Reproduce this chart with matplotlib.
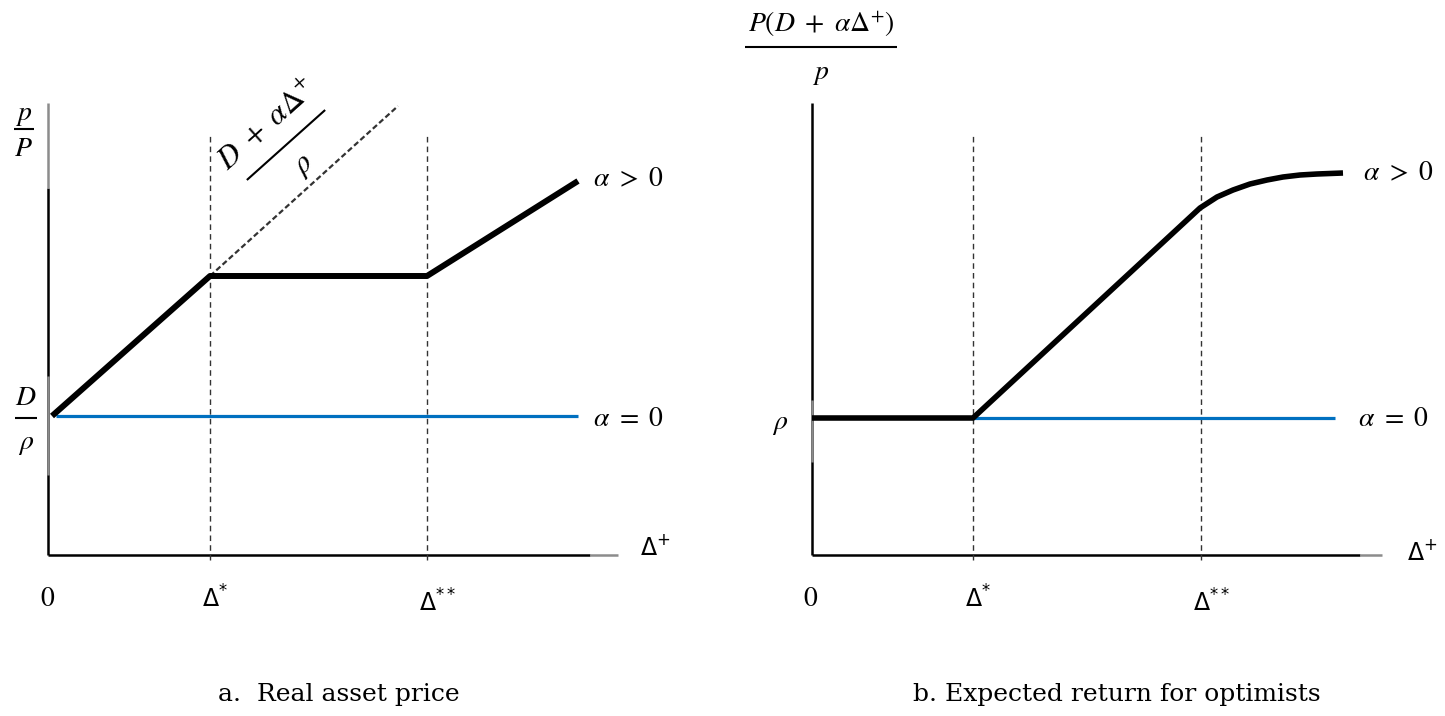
import numpy as np
import matplotlib.pyplot as plt

plt.rcParams['mathtext.fontset'] = 'stix'

# positions in units of the schematic (origin at the axes corner)
d_star = 1.62
d_2star = 3.79
x_end = 5.30

# panel a: real asset price
a_black_x = [0.04, d_star, d_2star, x_end]
a_black_y = [1.39, 2.79, 2.79, 3.74]
a_dash_x = [d_star, 3.50]
a_dash_y = [2.79, 4.49]
a_blue_x = [0.08, x_end]
a_blue_y = [1.39, 1.39]

# panel b: expected return for optimists
b_star = 1.61
b_2star = 3.89
b_black_x = [0.0, b_star, 3.88, 4.05, 4.21, 4.38, 4.55, 4.71, 4.88, 5.05, 5.31]
b_black_y = [1.37, 1.37, 3.47, 3.58, 3.65, 3.71, 3.75, 3.78, 3.80, 3.81, 3.82]
b_blue_x = [b_star, 5.23]
b_blue_y = [1.37, 1.37]

fig = plt.figure(figsize=(14.45, 7.16), dpi=100)
axa = fig.add_axes([0, 0, 1, 1])
axb = fig.add_axes([0, 0, 1, 1])
axa.set_xlim(-0.48, 14.45 - 0.48)
axa.set_ylim(-1.61, 7.16 - 1.61)
axb.set_xlim(-8.12, 14.45 - 8.12)
axb.set_ylim(-1.61, 7.16 - 1.61)
for ax in (axa, axb):
    ax.axis('off')
    ax.patch.set_alpha(0)

fs = 20
gray = '#8c8c8c'
blue = '#0070c0'


def frac(ax, x, y, num, den, half, up, down, angle=0, size=fs):
    # fraction drawn by hand so numerator and denominator keep full size
    t = np.radians(angle)
    ux, uy = np.cos(t), np.sin(t)
    px, py = -np.sin(t), np.cos(t)
    ax.plot([x - half * ux, x + half * ux], [y - half * uy, y + half * uy],
            color='black', lw=1.5, solid_capstyle='butt')
    ax.text(x + up * px, y + up * py, num, fontsize=size, ha='center',
            va='center', rotation=angle, rotation_mode='anchor')
    ax.text(x - down * px, y - down * py, den, fontsize=size, ha='center',
            va='center', rotation=angle, rotation_mode='anchor')


def dlabel(ax, x, y, s, size=17):
    ax.text(x, y, s, fontsize=size, ha='left', va='baseline',
            math_fontfamily='dejavusans')


# ---- panel a ----
ax = axa
ax.plot([0, 0], [0, 3.67], color='black', lw=1.8, solid_capstyle='butt')
ax.plot([0, 0], [3.67, 4.52], color=gray, lw=1.8, solid_capstyle='butt')
ax.plot([0, 0], [0.80, 1.79], color=gray, lw=1.8, solid_capstyle='butt')
ax.plot([0, 5.42], [0, 0], color='black', lw=1.8, solid_capstyle='butt')
ax.plot([5.42, 5.70], [0, 0], color=gray, lw=1.8, solid_capstyle='butt')
for xv in (d_star, d_2star):
    ax.plot([xv, xv], [-0.05, 4.2], color='#333333', lw=1.0, ls=(0, (4, 3)))
ax.plot(a_dash_x, a_dash_y, color='#333333', lw=1.6, ls=(0, (2.5, 1.3)))
ax.plot(a_blue_x, a_blue_y, color=blue, lw=2.3, solid_capstyle='butt')
ax.plot(a_black_x, a_black_y, color='black', lw=4.3, solid_joinstyle='round',
        solid_capstyle='butt')

frac(ax, -0.245, 4.26, r'$p$', r'$P$', 0.10, 0.155, 0.19)
frac(ax, -0.22, 1.37, r'$D$', r'$\rho$', 0.11, 0.21, 0.25)
frac(ax, 2.38, 4.10, r'$D\ +\ \alpha\Delta^{+}$', r'$\rho$', 0.525, 0.27, 0.27,
     angle=41.8, size=22)
ax.text(0, -0.43, r'$0$', fontsize=fs, ha='center', va='center')
dlabel(ax, d_star - 0.08, -0.53, r'$\Delta^{*}$')
dlabel(ax, d_2star - 0.08, -0.57, r'$\Delta^{**}$')
dlabel(ax, 5.92, 0.0, r'$\Delta^{+}$')
ax.text(5.45, 3.77, r'$\alpha\ >\ 0$', fontsize=fs, ha='left', va='center')
ax.text(5.45, 1.37, r'$\alpha\ =\ 0$', fontsize=fs, ha='left', va='center')
ax.text(1.70, -1.46, 'a.  Real asset price', fontsize=18, family='DejaVu Serif',
        ha='left', va='baseline')

# ---- panel b ----
ax = axb
ax.plot([0, 0], [0, 4.52], color='black', lw=1.8, solid_capstyle='butt')
ax.plot([0, 0], [0.93, 1.55], color=gray, lw=1.8, solid_capstyle='butt')
ax.plot([0, 5.48], [0, 0], color='black', lw=1.8, solid_capstyle='butt')
ax.plot([5.48, 5.70], [0, 0], color=gray, lw=1.8, solid_capstyle='butt')
for xv in (b_star, b_2star):
    ax.plot([xv, xv], [-0.05, 4.2], color='#333333', lw=1.0, ls=(0, (4, 3)))
ax.plot(b_blue_x, b_blue_y, color=blue, lw=2.3, solid_capstyle='butt')
ax.plot(b_black_x, b_black_y, color='black', lw=4.0, solid_joinstyle='round',
        solid_capstyle='butt')

frac(ax, 0.09, 5.08, r'$P(D\ +\ \alpha\Delta^{+})$', r'$p$', 0.76, 0.23, 0.26)
ax.text(-0.32, 1.32, r'$\rho$', fontsize=fs, ha='center', va='center')
ax.text(-0.01, -0.43, r'$0$', fontsize=fs, ha='center', va='center')
dlabel(ax, b_star - 0.08, -0.53, r'$\Delta^{*}$')
dlabel(ax, b_2star - 0.08, -0.57, r'$\Delta^{**}$')
dlabel(ax, 5.95, -0.05, r'$\Delta^{+}$')
ax.text(5.51, 3.83, r'$\alpha\ >\ 0$', fontsize=fs, ha='left', va='center')
ax.text(5.46, 1.37, r'$\alpha\ =\ 0$', fontsize=fs, ha='left', va='center')
ax.text(1.01, -1.46, 'b. Expected return for optimists', fontsize=18,
        family='DejaVu Serif', ha='left', va='baseline')

fig.savefig('out.png', dpi=100)
